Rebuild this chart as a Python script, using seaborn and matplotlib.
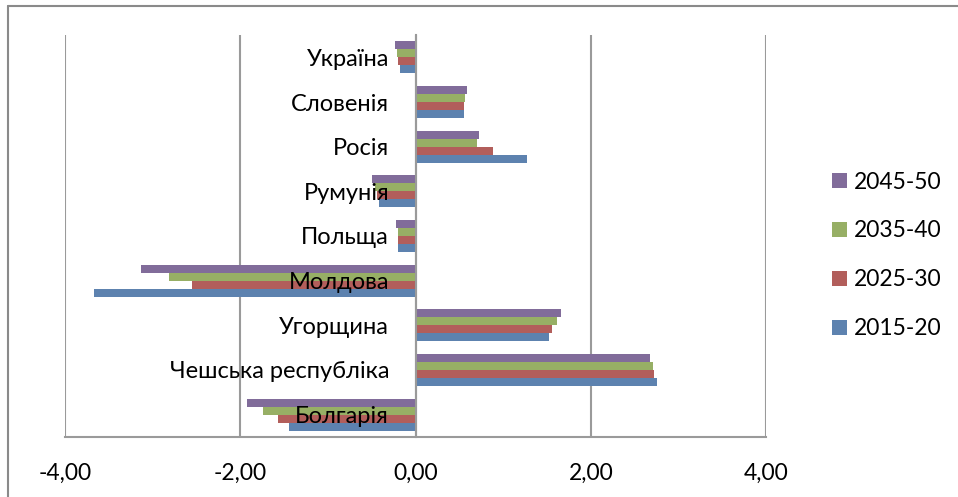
import pandas as pd
import matplotlib.pyplot as plt
import seaborn as sns
import numpy as np
from matplotlib.lines import Line2D

sns.set_style("white")
plt.rcParams['font.family'] = ['Lato', 'DejaVu Sans']
plt.rcParams['text.color'] = 'black'

countries = ["Україна", "Словенія", "Росія", "Румунія", "Польща",
             "Молдова", "Угорщина", "Чешська республіка", "Болгарія"]
periods = ["2045-50", "2035-40", "2025-30", "2015-20"]
v_2045 = [-0.23, 0.59, 0.73, -0.50, -0.22, -3.13, 1.66, 2.68, -1.92]
v_2035 = [-0.21, 0.57, 0.70, -0.46, -0.20, -2.81, 1.61, 2.71, -1.74]
v_2025 = [-0.20, 0.55, 0.89, -0.44, -0.20, -2.55, 1.56, 2.72, -1.57]
v_2015 = [-0.18, 0.55, 1.27, -0.42, -0.20, -3.67, 1.52, 2.76, -1.44]
x_ticks = [-4, -2, 0, 2, 4]
colors = ["#8064A2", "#9BBB59", "#C0504D", "#4F81BD"]

series = {"2045-50": v_2045, "2035-40": v_2035, "2025-30": v_2025, "2015-20": v_2015}
df = pd.DataFrame([(c, p, vals[i]) for p, vals in series.items() for i, c in enumerate(countries)],
                  columns=["country", "period", "value"])

grid_col = "#9a9a9a"
fig = plt.figure(figsize=(9.58, 4.97), dpi=100)
ax = fig.add_axes([65/958, 1-437/497, (766-65)/958, (437-35)/497])

sns.barplot(data=df, x="value", y="country", hue="period", order=countries,
            hue_order=periods, palette=colors, orient="h", width=0.71,
            linewidth=0, errorbar=None, ax=ax, zorder=1)
ax.set_axisbelow(False)  # category names sit on top of the bars

ax.set_xlim(x_ticks[0], x_ticks[-1])
ax.set_ylim(len(countries) - 0.5, -0.5)
for x in x_ticks:
    ax.axvline(x, color=grid_col, lw=1.5, zorder=0)

ax.set_xticks(x_ticks)
ax.set_xticklabels([f"{t:.2f}".replace(".", ",") for t in x_ticks])
ax.set_yticks(range(len(countries)))
ax.set_yticklabels(countries)
ax.set_yticks(np.arange(-0.5, len(countries)), minor=True)
ax.tick_params(axis="y", which="major", length=0, pad=19, labelsize=17, labelcolor="black")
ax.tick_params(axis="y", which="minor", length=5.5, width=1.5, color=grid_col, direction="out")
ax.tick_params(axis="x", length=5.5, width=1.5, color=grid_col, direction="out", pad=13,
               labelsize=16.5, labelcolor="black")
ax.set_xlabel("")
ax.set_ylabel("")

for s in ["top", "right"]:
    ax.spines[s].set_visible(False)
ax.spines["left"].set_position(("data", 0))
ax.spines["left"].set_color(grid_col)
ax.spines["left"].set_linewidth(1.5)
ax.spines["bottom"].set_color(grid_col)
ax.spines["bottom"].set_linewidth(1.5)

ax.legend(loc="center left", bbox_to_anchor=(832/958, 0.486), bbox_transform=fig.transFigure,
          frameon=False, fontsize=16.5, handlelength=0.65, handleheight=0.65,
          handletextpad=0.3, labelspacing=1.22, borderpad=0, borderaxespad=0)

# chart outer frame
fig.add_artist(Line2D([8/958, 8/958], [0, 1-5.5/497], color="#8a8a8a", lw=1.5, transform=fig.transFigure))
fig.add_artist(Line2D([8/958, 1], [1-5.5/497, 1-5.5/497], color="#8a8a8a", lw=1.5, transform=fig.transFigure))

plt.savefig("out.png", dpi=100)
plt.close()
